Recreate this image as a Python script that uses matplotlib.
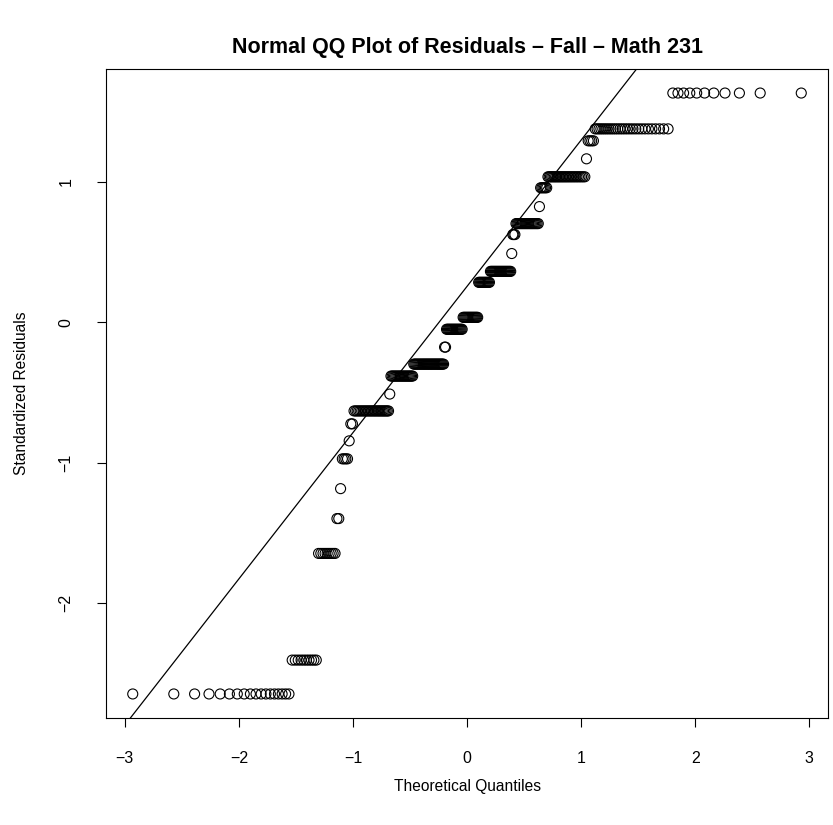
import numpy as np
import matplotlib
matplotlib.use("Agg")
import matplotlib.pyplot as plt
from statistics import NormalDist

# distinct standardized residual values (sorted) and how many times each occurs
resid_levels = [-2.645, -2.404, -1.645, -1.397, -1.184, -0.972, -0.844, -0.723,
                -0.631, -0.511, -0.383, -0.298, -0.177, -0.05, 0.035, 0.284,
                0.362, 0.489, 0.624, 0.702, 0.823, 0.957, 1.035, 1.163,
                1.291, 1.376, 1.631]
level_counts = [18, 10, 9, 2, 1, 4, 1, 2,
                26, 1, 20, 30, 2, 17, 16, 12,
                21, 1, 3, 21, 1, 6, 27, 1,
                4, 28, 11]

x_ticks = [-3, -2, -1, 0, 1, 2, 3]
y_ticks = [-2, -1, 0, 1]

title = "Normal QQ Plot of Residuals \u2013 Fall \u2013 Math 231"
xlab = "Theoretical Quantiles"
ylab = "Standardized Residuals"

plt.rcParams['font.family'] = ['Liberation Sans', 'DejaVu Sans']

# qqnorm-style theoretical quantiles
resid = np.repeat(resid_levels, level_counts)
n = len(resid)
nd = NormalDist()
pp = (np.arange(1, n + 1) - 0.5) / n
theo = np.array([nd.inv_cdf(p) for p in pp])

# qqline through the quartiles
q1, q3 = np.percentile(resid, [25, 75])
z1, z3 = nd.inv_cdf(0.25), nd.inv_cdf(0.75)
slope = (q3 - q1) / (z3 - z1)
icpt = q1 - slope * z1

W, H = 833, 825
fig = plt.figure(figsize=(W / 100, H / 100), dpi=100)
ax = fig.add_axes([106 / W, 1 - 718 / H, 722 / W, 649 / H])

ax.scatter(theo, resid, s=52, facecolors='none', edgecolors='black', linewidths=0.8, zorder=3)
ax.axline((0, icpt), slope=slope, color='black', lw=0.9)

# R-like 4% axis extension
def ext(v):
    lo, hi = min(v), max(v)
    d = (hi - lo) * 0.04
    return lo - d, hi + d

ax.set_xlim(*ext(theo))
ax.set_ylim(*ext(resid))

ax.set_xticks(x_ticks)
ax.set_yticks(y_ticks)
ax.tick_params(length=6.5, width=0.8, labelsize=11.5, pad=17, direction='out')
ax.tick_params(axis='y', labelrotation=90)
for lab in ax.get_yticklabels():
    lab.set_va('center')
for s in ax.spines.values():
    s.set_linewidth(0.8)

cx = (106 + 722 / 2) / W
fig.text(cx, 1 - 786 / H, xlab, ha='center', va='center', fontsize=11.2)
fig.text(22 / W, 1 - (69 + 649 / 2) / H, ylab, ha='center', va='center', rotation=90, fontsize=11.2)
fig.text(cx, 1 - 47 / H, title, ha='center', va='center', fontsize=15.5, fontweight='bold')

fig.savefig("out.png", dpi=100)
